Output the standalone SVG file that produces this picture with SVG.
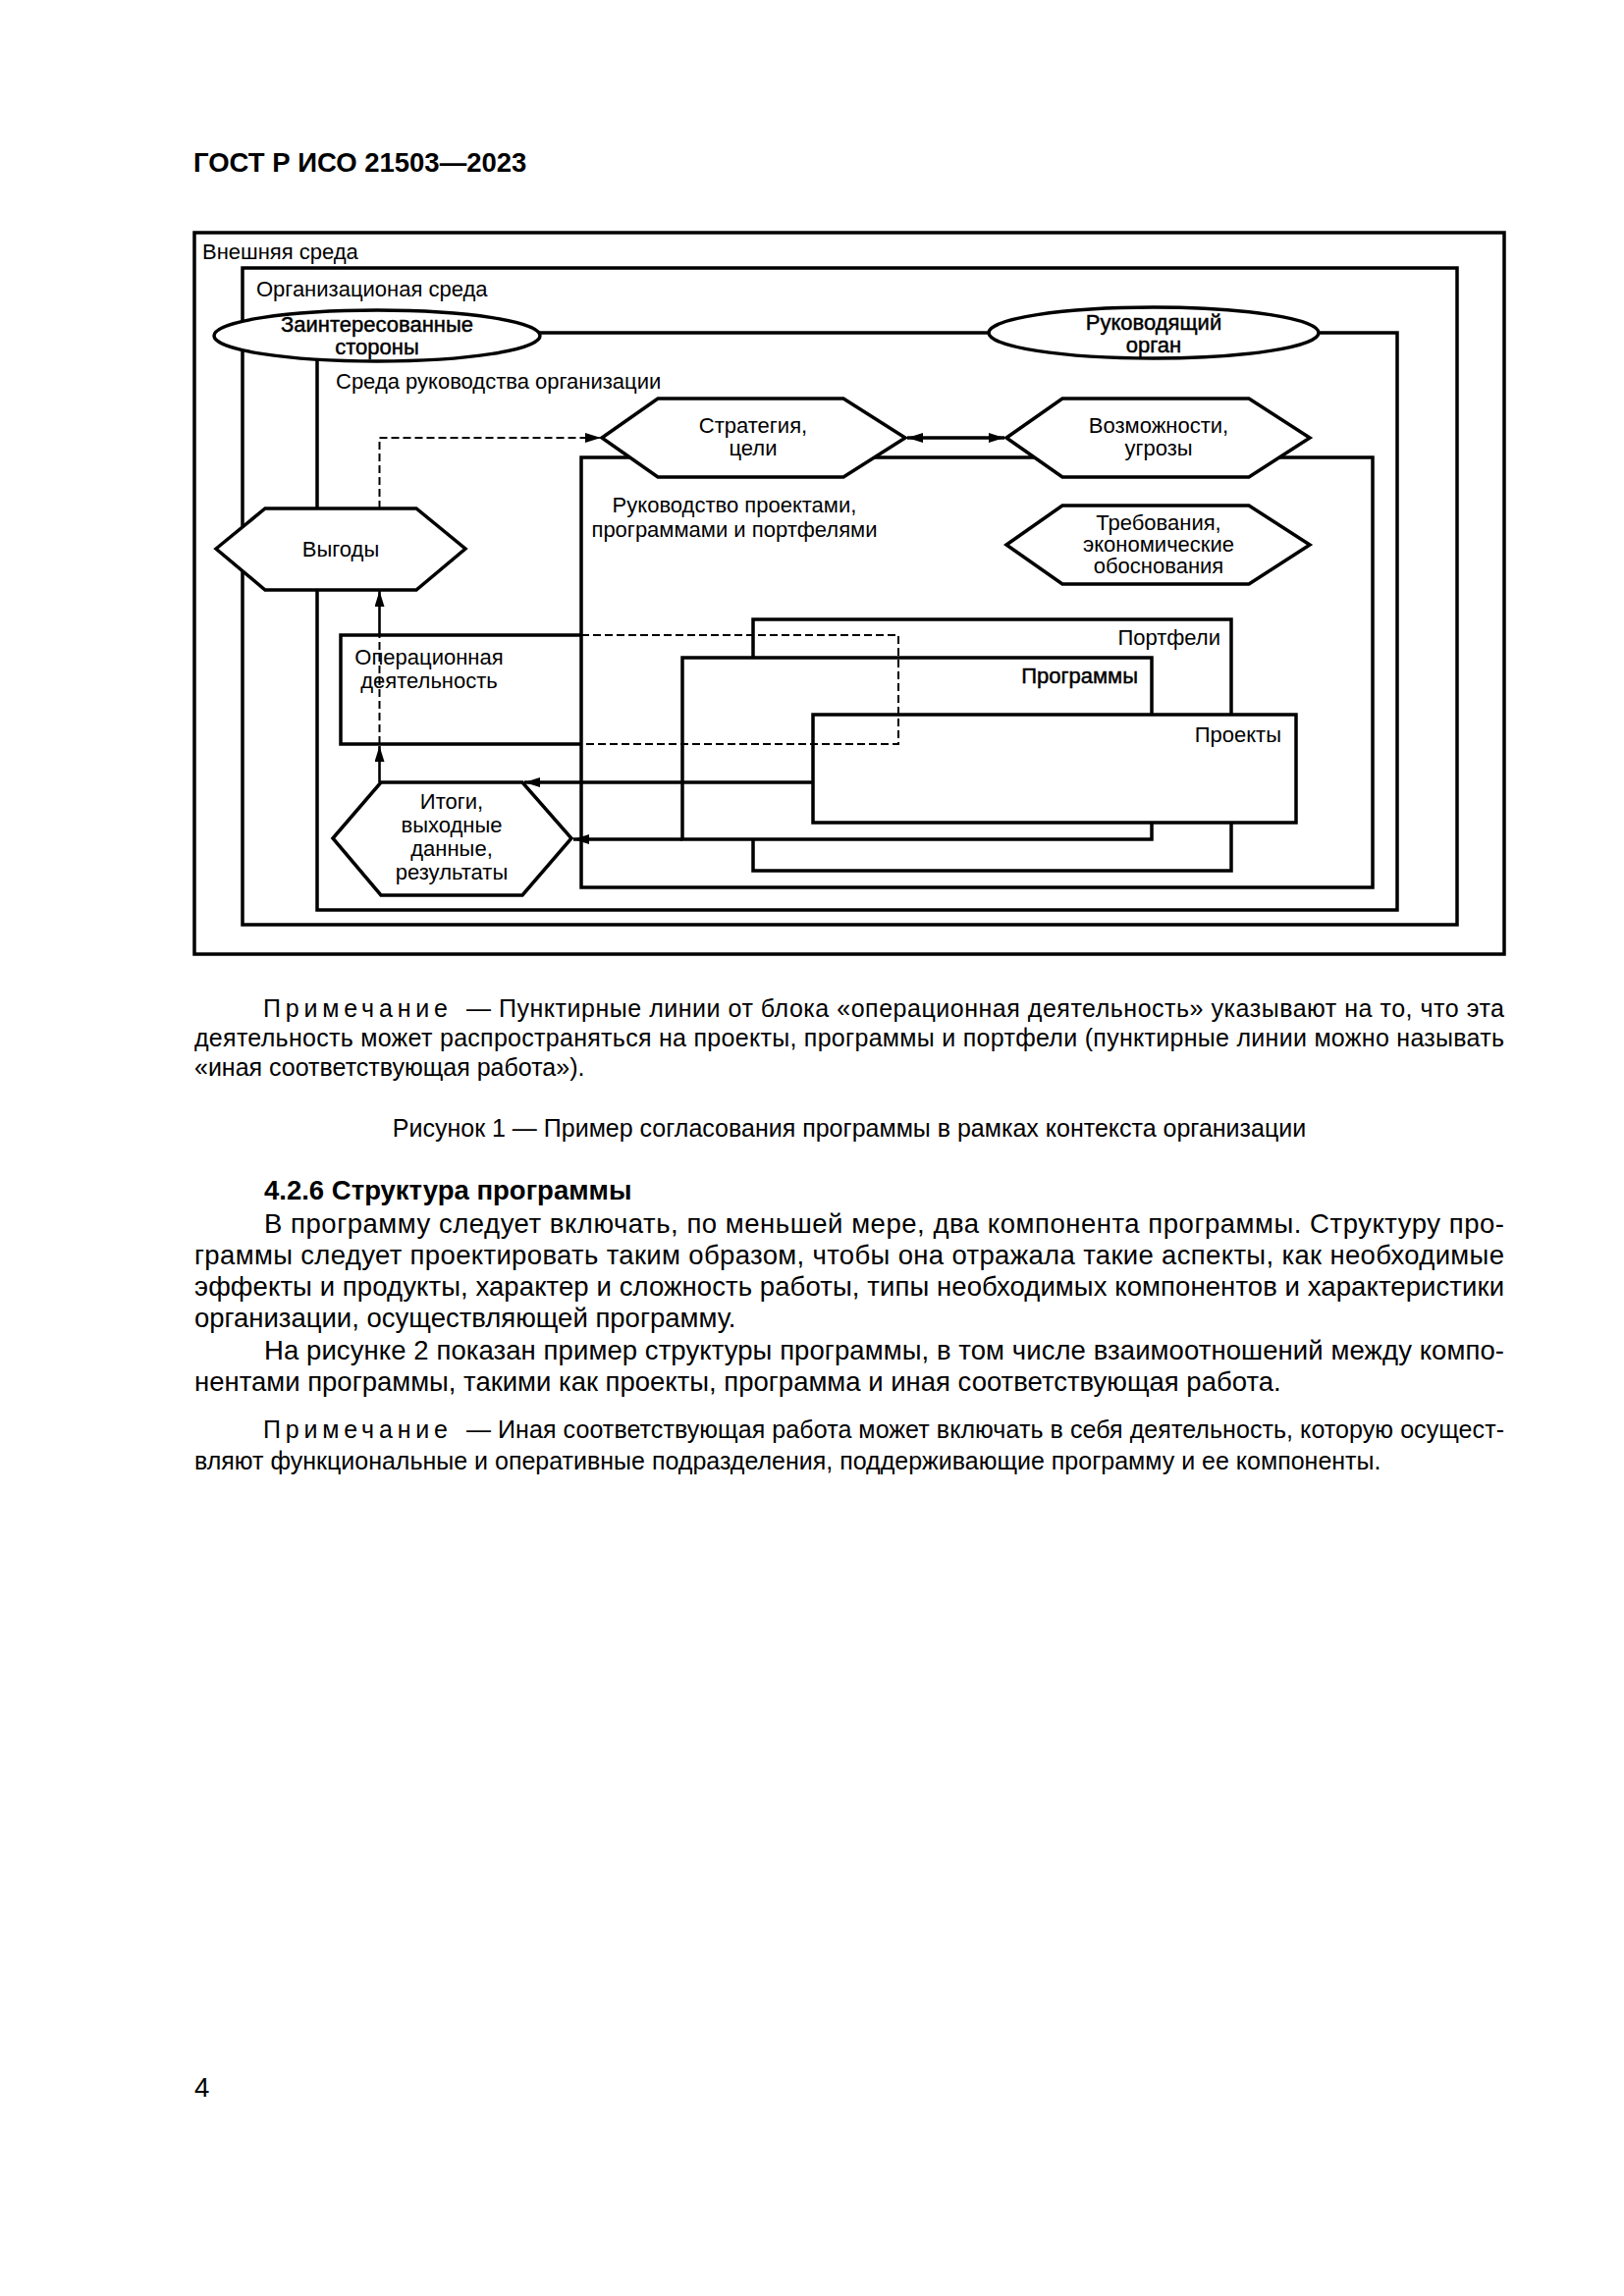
<svg xmlns="http://www.w3.org/2000/svg" width="1654" height="2339" viewBox="0 0 1654 2339">
<defs>
<style>
.bx{fill:none;stroke:#000;stroke-width:3.5}
.wf{fill:#fff;stroke:#000;stroke-width:3.5}
.ln{fill:none;stroke:#000;stroke-width:3.5}
.ar{fill:none;stroke:#000;stroke-width:2.6}
.ds{fill:none;stroke:#000;stroke-width:2;stroke-dasharray:8 4}
.t{font-family:"Liberation Sans",Arial,sans-serif;font-size:22px;fill:#000}
.c{text-anchor:middle}
.e{text-anchor:end}
.hv{stroke:#000;stroke-width:0.45}
.p{font-family:"Liberation Sans",Arial,sans-serif;font-size:27.5px;fill:#000}
.n{font-family:"Liberation Sans",Arial,sans-serif;font-size:25px;fill:#000}
.sp{letter-spacing:4.8px}
</style>
<marker id="ah" viewBox="0 0 16 10" refX="16" refY="5" markerWidth="16" markerHeight="10" markerUnits="userSpaceOnUse" orient="auto-start-reverse"><path d="M0,0L16,5L0,10z" fill="#000"/></marker>
</defs>
<rect width="1654" height="2339" fill="#fff"/>

<text class="p" x="197" y="175" font-weight="bold" font-size="28">ГОСТ Р ИСО 21503—2023</text>

<g id="external-env">
<rect class="bx" x="198" y="237" width="1334" height="735"/>
<text class="t" x="206" y="264">Внешняя среда</text>
</g>
<g id="org-env">
<rect class="bx" x="247" y="273" width="1237" height="669"/>
<text class="t" x="261" y="302">Организационая среда</text>
</g>
<g id="gov-env">
<rect class="bx" x="323" y="339" width="1100" height="588"/>
<text class="t" x="342" y="396">Среда руководства организации</text>
</g>
<g id="ppp-gov">
<rect class="bx" x="592" y="466" width="806" height="438"/>
<text class="t c" x="748" y="522">Руководство проектами,</text>
<text class="t c" x="748" y="547">программами и портфелями</text>
</g>
<g id="portfolios">
<rect class="wf" x="767" y="631" width="487" height="256"/>
<text class="t e" x="1243" y="657">Портфели</text>
</g>
<g id="programs">
<rect class="wf" x="695" y="670" width="478" height="185"/>
<text class="t e hv" x="1159" y="696">Программы</text>
</g>
<g id="projects">
<rect class="wf" x="828" y="728" width="492" height="110"/>
<text class="t e" x="1305" y="756">Проекты</text>
</g>
<g id="operations">
<path class="ln" d="M592,647H347V758H592"/>
<path class="ds" d="M592,647H915V758H592"/>
<text class="t c" x="437" y="677">Операционная</text>
<text class="t c" x="437" y="701">деятельность</text>
</g>
<g id="stakeholders">
<ellipse class="wf" cx="384" cy="342" rx="166" ry="26"/>
<text class="t c hv" x="384" y="338">Заинтересованные</text>
<text class="t c hv" x="384" y="361">стороны</text>
</g>
<g id="governing-body">
<ellipse class="wf" cx="1175" cy="339" rx="168" ry="26"/>
<text class="t c hv" x="1175" y="336">Руководящий</text>
<text class="t c hv" x="1175" y="359">орган</text>
</g>
<g id="strategy">
<polygon class="wf" points="613,446 670,406 859,406 922,446 859,486 670,486"/>
<text class="t c" x="767" y="441">Стратегия,</text>
<text class="t c" x="767" y="464">цели</text>
</g>
<g id="opportunities">
<polygon class="wf" points="1025,446 1082,406 1272,406 1334,446 1272,486 1082,486"/>
<text class="t c" x="1180" y="441">Возможности,</text>
<text class="t c" x="1180" y="464">угрозы</text>
</g>
<g id="requirements">
<polygon class="wf" points="1025,555 1082,515 1272,515 1334,555 1272,595 1082,595"/>
<text class="t c" x="1180" y="540">Требования,</text>
<text class="t c" x="1180" y="562">экономические</text>
<text class="t c" x="1180" y="584">обоснования</text>
</g>
<g id="benefits">
<polygon class="wf" points="220,559 270,518 424,518 474,559 424,601 270,601"/>
<text class="t c" x="347" y="567">Выгоды</text>
</g>
<g id="outcomes">
<polygon class="wf" points="339,854 388,797 532,797 582,854 532,912 388,912"/>
<text class="t c" x="460" y="824">Итоги,</text>
<text class="t c" x="460" y="848">выходные</text>
<text class="t c" x="460" y="872">данные,</text>
<text class="t c" x="460" y="896">результаты</text>
</g>

<g id="connectors">
<path class="ds" d="M386.5,518V446H612" marker-end="url(#ah)"/>
<path class="ar" d="M386.5,647V602" marker-end="url(#ah)"/>
<path class="ds" d="M386.5,758V647"/>
<path class="ar" d="M386.5,797V760" marker-end="url(#ah)"/>
<path class="ln" d="M828,797H534" marker-end="url(#ah)"/>
<path class="ln" d="M695,855H584" marker-end="url(#ah)"/>
<path class="ln" d="M924,446H1023" marker-start="url(#ah)" marker-end="url(#ah)"/>
</g>

<g id="note1">
<text class="n sp" x="268" y="1036">Примечание</text>
<text class="n" x="475" y="1036" textLength="1057" lengthAdjust="spacing">— Пунктирные линии от блока «операционная деятельность» указывают на то, что эта</text>
<text class="n" x="198" y="1066" textLength="1334" lengthAdjust="spacing">деятельность может распространяться на проекты, программы и портфели (пунктирные линии можно называть</text>
<text class="n" x="198" y="1096">«иная соответствующая работа»).</text>
<text class="n c" x="865" y="1158">Рисунок 1 — Пример согласования программы в рамках контекста организации</text>
</g>

<g id="body">
<text class="p" x="269" y="1222" font-weight="bold">4.2.6 Структура программы</text>
<text class="p" x="269" y="1256" textLength="1263" lengthAdjust="spacing">В программу следует включать, по меньшей мере, два компонента программы. Структуру про-</text>
<text class="p" x="198" y="1288" textLength="1334" lengthAdjust="spacing">граммы следует проектировать таким образом, чтобы она отражала такие аспекты, как необходимые</text>
<text class="p" x="198" y="1320" textLength="1334" lengthAdjust="spacing">эффекты и продукты, характер и сложность работы, типы необходимых компонентов и характеристики</text>
<text class="p" x="198" y="1352">организации, осуществляющей программу.</text>
<text class="p" x="269" y="1385" textLength="1263" lengthAdjust="spacing">На рисунке 2 показан пример структуры программы, в том числе взаимоотношений между компо-</text>
<text class="p" x="198" y="1417">нентами программы, такими как проекты, программа и иная соответствующая работа.</text>
<text class="n sp" x="268" y="1465">Примечание</text>
<text class="n" x="475" y="1465" textLength="1057" lengthAdjust="spacing">— Иная соответствующая работа может включать в себя деятельность, которую осущест-</text>
<text class="n" x="198" y="1497">вляют функциональные и оперативные подразделения, поддерживающие программу и ее компоненты.</text>
</g>

<text class="p" x="198" y="2136">4</text>
</svg>
